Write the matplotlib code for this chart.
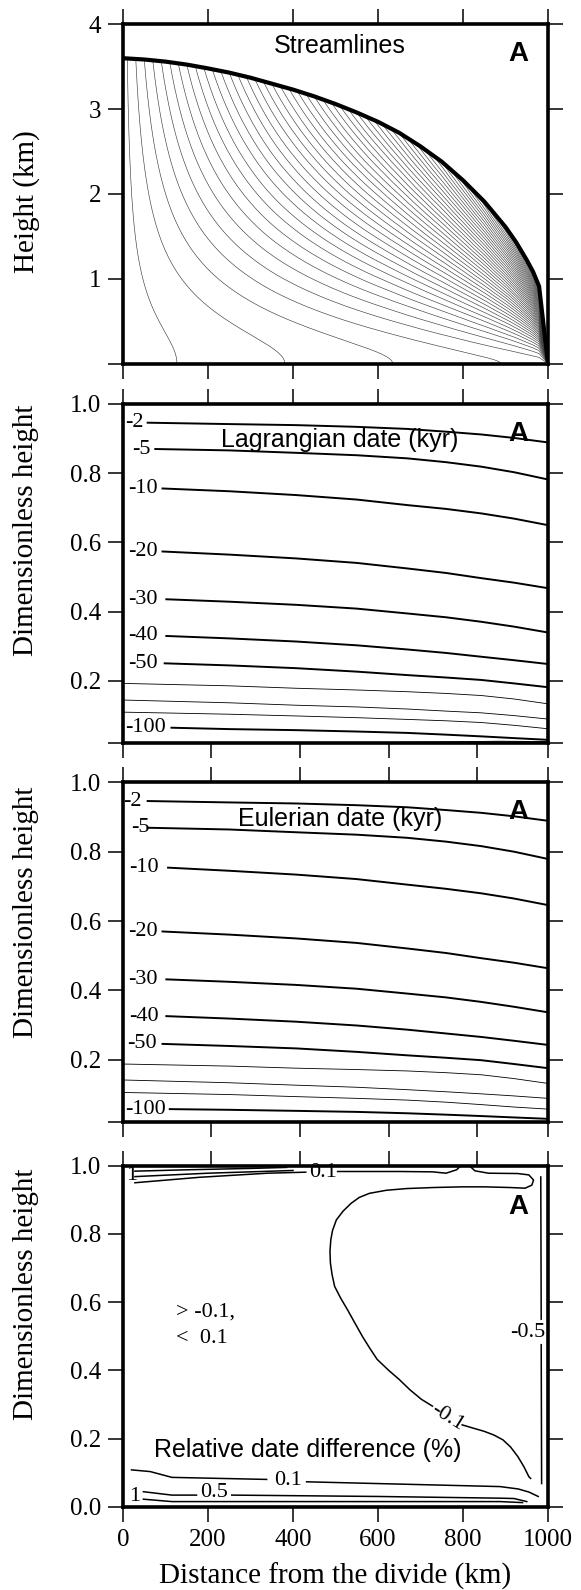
import numpy as np
import matplotlib.pyplot as plt

SERIF = 'Liberation Serif'
SANS = 'Liberation Sans'

# ---------------- values ----------------
even_ticks = [0, 200, 400, 600, 800, 1000]
odd_ticks = [0, 208, 417, 625, 833, 1000]
x_ticklabels = ['0', '200', '400', '600', '800', '1000']

# ice surface (km) along the flow line
surf_x = [0, 50, 100, 150, 200, 250, 300, 350, 400, 450, 500, 550, 600, 650,
          700, 750, 800, 850, 900, 925, 950, 965, 979, 1000]
surf_z = [3.60, 3.585, 3.56, 3.525, 3.48, 3.43, 3.37, 3.30, 3.23, 3.15, 3.06,
          2.96, 2.85, 2.72, 2.56, 2.38, 2.16, 1.91, 1.61, 1.43, 1.22, 1.08,
          0.91, 0.0]

# surface points where the drawn streamlines start (km)
stream_x0 = [10, 30, 50, 70, 90, 110, 130, 150, 170, 190, 210, 230, 250, 270,
             290, 310, 330, 350, 370, 390, 410, 430, 450, 470, 490, 510, 530,
             550, 570, 590, 610, 630, 650, 670, 690, 710, 730, 750, 770, 790,
             810, 830, 850, 870, 890, 910, 930, 950, 970, 990]
# where the first four streamlines reach the bed (km)
bed_reach = [126, 384, 641, 879]

# Lagrangian isochrones (dimensionless height)
iso_x = [250, 407, 550, 669, 760, 843, 920, 1000]
lag_labels = ['-2', '-5', '-10', '-20', '-30', '-40', '-50', '', '', '', '-100']
lag_lab_x = [27, 43, 47, 47, 47, 47, 47, 0, 0, 0, 54]
lag_start = [58, 76, 93, 93, 102, 102, 98, 0, 0, 0, 114]
lag_y = [[0.946, 0.942, 0.939, 0.934, 0.928, 0.920, 0.912, 0.902, 0.889],
         [0.870, 0.866, 0.859, 0.852, 0.843, 0.832, 0.819, 0.803, 0.782],
         [0.756, 0.748, 0.737, 0.724, 0.708, 0.697, 0.684, 0.669, 0.650],
         [0.574, 0.565, 0.554, 0.541, 0.525, 0.512, 0.497, 0.484, 0.468],
         [0.436, 0.429, 0.420, 0.409, 0.395, 0.384, 0.371, 0.357, 0.340],
         [0.330, 0.323, 0.314, 0.303, 0.291, 0.281, 0.270, 0.260, 0.249],
         [0.251, 0.245, 0.237, 0.227, 0.217, 0.210, 0.203, 0.193, 0.182],
         [0.193, 0.186, 0.179, 0.174, 0.169, 0.164, 0.158, 0.148, 0.134],
         [0.145, 0.137, 0.130, 0.125, 0.119, 0.113, 0.108, 0.100, 0.090],
         [0.110, 0.104, 0.099, 0.094, 0.089, 0.085, 0.080, 0.072, 0.062],
         [0.065, 0.061, 0.058, 0.054, 0.050, 0.045, 0.040, 0.035, 0.030]]
lag_base_x = [560, 750, 887, 1000]
lag_base_y = [0.022, 0.024, 0.026, 0.025]

# Eulerian isochrones (dimensionless height)
eul_labels = ['-2', '-5', '-10', '-20', '-30', '-40', '-50', '', '', '', '-100']
eul_lab_x = [22, 40, 50, 47, 47, 50, 45, 0, 0, 0, 52]
eul_start = [58, 58, 106, 93, 102, 102, 93, 0, 0, 0, 110]
eul_y = [[0.946, 0.942, 0.939, 0.934, 0.928, 0.920, 0.912, 0.902, 0.889],
         [0.869, 0.864, 0.856, 0.849, 0.840, 0.829, 0.816, 0.800, 0.779],
         [0.754, 0.745, 0.734, 0.721, 0.705, 0.693, 0.680, 0.665, 0.646],
         [0.570, 0.561, 0.550, 0.537, 0.521, 0.508, 0.493, 0.480, 0.464],
         [0.432, 0.425, 0.416, 0.405, 0.391, 0.380, 0.367, 0.353, 0.337],
         [0.326, 0.319, 0.310, 0.299, 0.287, 0.276, 0.266, 0.255, 0.243],
         [0.246, 0.240, 0.233, 0.223, 0.213, 0.206, 0.199, 0.188, 0.176],
         [0.188, 0.182, 0.176, 0.172, 0.168, 0.163, 0.157, 0.146, 0.132],
         [0.142, 0.134, 0.127, 0.121, 0.114, 0.108, 0.102, 0.096, 0.089],
         [0.106, 0.100, 0.094, 0.089, 0.084, 0.078, 0.071, 0.064, 0.058],
         [0.058, 0.056, 0.053, 0.050, 0.046, 0.042, 0.038, 0.034, 0.030]]
eul_base_x = [0, 400, 800, 1000]
eul_base_y = [0.022, 0.022, 0.022, 0.021]

# relative date difference (%) contour pieces
rel_x = [[28, 150, 300, 385],
         [28, 200, 400],
         [28, 180, 340, 430],
         [505, 650, 728, 760, 785, 795],
         [815, 828, 860, 929, 955, 966, 962, 946, 911, 850, 798, 730, 668,
          620, 580, 556, 537, 518, 502, 493, 489, 487, 488, 492, 498, 512,
          528, 545, 563, 580, 598, 625, 650, 675, 702, 728],
         [798, 825, 850, 873, 894, 912, 929, 943, 955, 959],
         [983, 984],
         [984, 985],
         [20, 64, 115, 338],
         [432, 887, 930, 955, 977],
         [48, 115, 173],
         [256, 600, 887, 920, 950],
         [48, 115, 500, 887, 940]]
rel_y = [[0.984, 0.988, 0.992, 0.995],
         [0.968, 0.978, 0.986],
         [0.950, 0.966, 0.978, 0.981],
         [0.983, 0.983, 0.982, 0.978, 0.988, 1.0],
         [1.0, 0.985, 0.978, 0.977, 0.973, 0.958, 0.943, 0.934, 0.936, 0.938,
          0.938, 0.936, 0.933, 0.928, 0.919, 0.907, 0.890, 0.867, 0.841,
          0.810, 0.783, 0.750, 0.715, 0.680, 0.646, 0.612, 0.578, 0.540,
          0.500, 0.466, 0.432, 0.400, 0.373, 0.343, 0.315, 0.295],
         [0.240, 0.230, 0.221, 0.210, 0.196, 0.175, 0.147, 0.118, 0.088, 0.083],
         [0.967, 0.550],
         [0.475, 0.068],
         [0.108, 0.103, 0.086, 0.080],
         [0.073, 0.059, 0.052, 0.043, 0.030],
         [0.044, 0.034, 0.034],
         [0.034, 0.030, 0.025, 0.024, 0.015],
         [0.022, 0.015, 0.015, 0.015, 0.012]]
rel_labels = ['1', '0.1', '0.1', '0.5', '1', '-0.1', '-0.5']
rel_lab_x = [20, 470, 388, 215, 28, 763, 952]
rel_lab_y = [0.971, 0.981, 0.076, 0.042, 0.030, 0.262, 0.510]
rel_lab_rot = [0, 0, 0, 0, 0, -32, 0]


# ---------------- figure ----------------
W, H = 581, 1590
fig = plt.figure(figsize=(W / 100, H / 100), dpi=100)


def make_axes(top, bottom):
    return fig.add_axes([123 / W, 1 - bottom / H, (548 - 123) / W, (bottom - top) / H])


def style(ax, bottom_ticks, top_ticks, yticks, ylabels, show_x=False):
    ax.set_xlim(0, 1000)
    for s in ax.spines.values():
        s.set_linewidth(2.6)
    ax.set_xticks(bottom_ticks)
    ax.set_xticklabels(x_ticklabels if show_x else [''] * len(bottom_ticks))
    ax.set_yticks(yticks)
    ax.set_yticklabels(ylabels)
    ax.tick_params(direction='out', length=10.8, width=1.1, right=True,
                   labelsize=18, pad=5)
    for lab in ax.get_xticklabels() + ax.get_yticklabels():
        lab.set_family(SERIF)
    tw = ax.twiny()
    tw.set_xlim(0, 1000)
    tw.set_xticks(top_ticks)
    tw.set_xticklabels([])
    tw.tick_params(direction='out', length=10.8, width=1.1)
    for s in tw.spines.values():
        s.set_visible(False)


def ylab(ax, text, yfrac):
    ax.text(-0.228, yfrac, text, transform=ax.transAxes, rotation=90,
            ha='center', va='center', family=SERIF, fontsize=21)


def mark_a(ax, y):
    ax.text(930, y, 'A', ha='center', va='center', family=SANS,
            fontsize=20, fontweight='bold')


# ---- panel 1: streamlines ----
ax1 = make_axes(24.3, 363.5)
ax1.set_ylim(0, 4)
ratio = np.mean(np.array(bed_reach) / np.array(stream_x0[:4]))
zeta = np.linspace(0, 1, 401)
flux_frac = (5 * zeta - 1 + (1 - zeta) ** 5) / 4  # flux below zeta, n = 3
for x0 in stream_x0:
    x = np.linspace(x0, min(ratio * x0, 1000), 300)
    r = np.clip((ratio * x0 - x) / ((ratio - 1) * x), 0, 1)
    z = np.interp(r, flux_frac, zeta) * np.interp(x, surf_x, surf_z)
    ax1.plot(x, z, color='0.25', lw=0.45)
ax1.plot(surf_x, surf_z, color='black', lw=3.0, solid_capstyle='butt',
         solid_joinstyle='round')
ax1.text(511, 3.74, 'Streamlines', ha='center', va='center', family=SANS,
         fontsize=18)
mark_a(ax1, 3.65)
style(ax1, even_ticks, even_ticks, [0, 1, 2, 3, 4], ['', '1', '2', '3', '4'])
ylab(ax1, 'Height (km)', 0.476)


# ---- panels 2 and 3: isochrones ----
def isochrones(ax, labels, lab_x, starts, ys, bx, by, title, ty):
    ax.set_ylim(0.02, 1.0)
    for lab, lx, x0, y in zip(labels, lab_x, starts, ys):
        ax.plot([x0] + iso_x, y, color='black', lw=1.4 if lab else 0.6)
        if lab:
            ax.text(lx, y[0], lab, ha='center', va='center', family=SERIF,
                    fontsize=16)
    ax.plot(bx, by, color='black', lw=0.6)
    ax.text(511, ty, title, ha='center', va='center', family=SANS, fontsize=18)
    mark_a(ax, 0.913)


ax2 = make_axes(404, 743.3)
isochrones(ax2, lag_labels, lag_lab_x, lag_start, lag_y, lag_base_x, lag_base_y,
           'Lagrangian date (kyr)', 0.896)
style(ax2, odd_ticks, even_ticks, [0.02, 0.2, 0.4, 0.6, 0.8, 1.0],
      ['', '0.2', '0.4', '0.6', '0.8', '1.0'])
ylab(ax2, 'Dimensionless height', 0.627)

ax3 = make_axes(782.3, 1122.3)
isochrones(ax3, eul_labels, eul_lab_x, eul_start, eul_y, eul_base_x, eul_base_y,
           'Eulerian date (kyr)', 0.893)
style(ax3, odd_ticks, odd_ticks, [0.02, 0.2, 0.4, 0.6, 0.8, 1.0],
      ['', '0.2', '0.4', '0.6', '0.8', '1.0'])
ylab(ax3, 'Dimensionless height', 0.617)

# ---- panel 4: relative difference ----
ax4 = make_axes(1165.7, 1506.7)
ax4.set_ylim(0, 1.0)
for x, y in zip(rel_x, rel_y):
    ax4.plot(x, y, color='black', lw=1.1)
for lab, lx, ly, rot in zip(rel_labels, rel_lab_x, rel_lab_y, rel_lab_rot):
    ax4.text(lx, ly, lab, ha='center', va='center', family=SERIF,
             fontsize=16, rotation=rot)
ax4.text(124, 0.57, '> -0.1,', ha='left', va='center', family=SERIF, fontsize=16)
ax4.text(124, 0.494, '<  0.1', ha='left', va='center', family=SERIF, fontsize=16)
ax4.text(435, 0.166, 'Relative date difference (%)', ha='center', va='center',
         family=SANS, fontsize=18)
mark_a(ax4, 0.88)
style(ax4, even_ticks, odd_ticks, [0, 0.2, 0.4, 0.6, 0.8, 1.0],
      ['0.0', '0.2', '0.4', '0.6', '0.8', '1.0'], show_x=True)
ylab(ax4, 'Dimensionless height', 0.624)
ax4.text(0.5, -0.205, 'Distance from the divide (km)', transform=ax4.transAxes,
         ha='center', va='center', family=SERIF, fontsize=21)

fig.savefig('out.png', dpi=100)
